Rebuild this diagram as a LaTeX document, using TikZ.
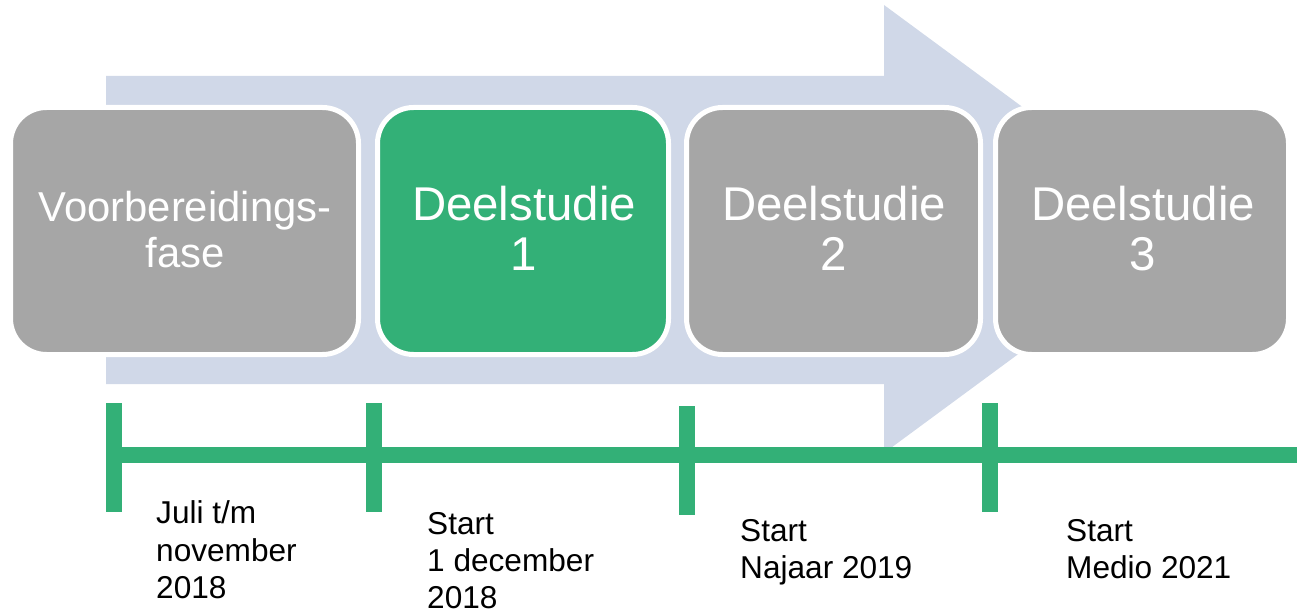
\documentclass[tikz,border=0pt]{standalone}
\usepackage{fontspec}
\setmainfont{Liberation Sans}
\definecolor{arrowblue}{HTML}{D0D8E8}
\definecolor{boxgray}{HTML}{A6A6A6}
\definecolor{boxgreen}{HTML}{33B077}
\begin{document}
\begin{tikzpicture}[x=1pt,y=-1pt,
  phase/.style={rectangle, rounded corners=36pt, draw=white, line width=5pt,
    minimum height=247pt, inner sep=0pt},
  bigtext/.style={text=white, inner sep=0pt, anchor=base},
  datetext/.style={text=black, inner sep=0pt, anchor=base west,
    font=\fontsize{31.6}{37}\selectfont},
  tlstyle/.style={draw=boxgreen, line width=16pt}]
\useasboundingbox (0,0) rectangle (1297,612);
% big background arrow
\fill[arrowblue] (106,76) -- (884,76) -- (884,5) -- (1188,229) -- (884,453)
  -- (884,384) -- (106,384) -- cycle;
% phase boxes
\node[phase, fill=boxgray,  minimum width=348pt] (p1) at (184.5,231) {};
\node[phase, fill=boxgreen, minimum width=291pt] (p2) at (523,231) {};
\node[phase, fill=boxgray,  minimum width=294pt] (p3) at (833.5,231) {};
\node[phase, fill=boxgray,  minimum width=293pt] (p4) at (1142,231) {};
% box texts
\node[bigtext, font=\fontsize{41.8}{45}\selectfont] (p1a) at (185,222) {Voorbereidings-};
\node[bigtext, font=\fontsize{41.8}{45}\selectfont] (p1b) at (185,267) {fase};
\node[bigtext, font=\fontsize{47.4}{49}\selectfont] (p2a) at (524,221) {Deelstudie};
\node[bigtext, font=\fontsize{47.4}{49}\selectfont] (p2b) at (524,270) {1};
\node[bigtext, font=\fontsize{47.4}{49}\selectfont] (p3a) at (834,221) {Deelstudie};
\node[bigtext, font=\fontsize{47.4}{49}\selectfont] (p3b) at (834,270) {2};
\node[bigtext, font=\fontsize{47.4}{49}\selectfont] (p4a) at (1143,221) {Deelstudie};
\node[bigtext, font=\fontsize{47.4}{49}\selectfont] (p4b) at (1143,270) {3};
% timeline
\coordinate (tl0) at (106,454.5);
\coordinate (tl1) at (1297,454.5);
\draw[tlstyle] (tl0) -- (tl1);
\coordinate (k1a) at (114,403); \coordinate (k1b) at (114,512);
\coordinate (k2a) at (374,403); \coordinate (k2b) at (374,512);
\coordinate (k3a) at (687,406); \coordinate (k3b) at (687,515);
\coordinate (k4a) at (990,403); \coordinate (k4b) at (990,512);
\draw[tlstyle] (k1a) -- (k1b);
\draw[tlstyle] (k2a) -- (k2b);
\draw[tlstyle] (k3a) -- (k3b);
\draw[tlstyle] (k4a) -- (k4b);
% date texts
\node[datetext] (d1a) at (156,523) {Juli t/m};
\node[datetext] (d1b) at (156,561) {november};
\node[datetext] (d1c) at (156,598) {2018};
\node[datetext] (d2a) at (427,534) {Start};
\node[datetext] (d2b) at (427,571) {1 december};
\node[datetext] (d2c) at (427,608) {2018};
\node[datetext] (d3a) at (740,541) {Start};
\node[datetext] (d3b) at (740,578) {Najaar 2019};
\node[datetext] (d4a) at (1066,541) {Start};
\node[datetext] (d4b) at (1066,578) {Medio 2021};
\end{tikzpicture}
\end{document}
